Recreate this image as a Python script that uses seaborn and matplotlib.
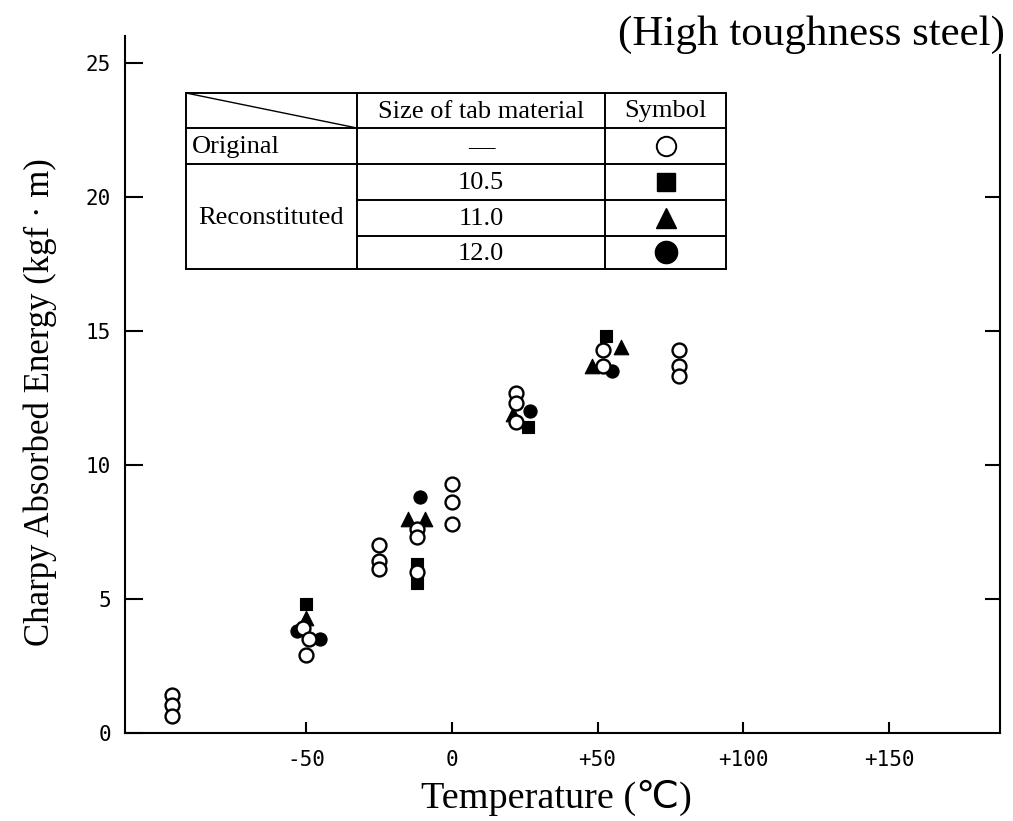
import matplotlib
matplotlib.use("Agg")
import matplotlib.pyplot as plt
import seaborn as sns
import pandas as pd

# ---------------- data ----------------
orig_T = [-96, -96, -96, -51, -49, -50, -25, -25, -25, -12, -12, -12,
          0, 0, 0, 22, 22, 22, 52, 52, 78, 78, 78]
orig_E = [1.4, 1.05, 0.65, 3.9, 3.5, 2.9, 7.0, 6.4, 6.1, 7.6, 7.3, 6.0,
          9.3, 8.6, 7.8, 12.7, 12.3, 11.6, 14.3, 13.7, 14.3, 13.7, 13.3]

sq_T = [-50, -12, -12, 26, 53]          # tab size 10.5
sq_E = [4.8, 6.3, 5.6, 11.4, 14.8]

tri_T = [-50, -15, -9, 21, 58, 48]      # tab size 11.0
tri_E = [4.3, 8.0, 8.0, 11.9, 14.4, 13.7]

dot_T = [-53, -45, -11, 27, 55]         # tab size 12.0
dot_E = [3.8, 3.5, 8.8, 12.0, 13.5]

x_ticks = [-50, 0, 50, 100, 150]
x_labels = ["-50", "0", "+50", "+100", "+150"]
y_ticks = [0, 5, 10, 15, 20, 25]
y_labels = ["0", "5", "10", "15", "20", "25"]

tab_header = ["Size of tab material", "Symbol"]
tab_groups = ["Original", "Reconstituted"]
tab_sizes = ["\u2014", "10.5", "11.0", "12.0"]

# ---------------- style ----------------
sns.set_theme(style="white")
plt.rcParams["font.family"] = ["Liberation Serif", "DejaVu Sans"]
plt.rcParams["text.color"] = "black"
plt.rcParams["xtick.color"] = "black"
plt.rcParams["ytick.color"] = "black"

W, H = 1013, 821
fig = plt.figure(figsize=(W / 100, H / 100), dpi=100)
ax = fig.add_axes([125 / W, 1 - 733 / H, 875 / W, (733 - 36) / H])

frames = {
    "orig": pd.DataFrame({"T": orig_T, "E": orig_E}),
    "sq": pd.DataFrame({"T": sq_T, "E": sq_E}),
    "tri": pd.DataFrame({"T": tri_T, "E": tri_E}),
    "dot": pd.DataFrame({"T": dot_T, "E": dot_E}),
}

sns.scatterplot(data=frames["sq"], x="T", y="E", marker="s", s=80,
                color="black", edgecolor="black", linewidth=0.8, ax=ax, zorder=3)
sns.scatterplot(data=frames["tri"], x="T", y="E", marker="^", s=110,
                color="black", edgecolor="black", linewidth=0.8, ax=ax, zorder=3)
sns.scatterplot(data=frames["dot"], x="T", y="E", marker="o", s=90,
                color="black", edgecolor="black", linewidth=0.8, ax=ax, zorder=3)
sns.scatterplot(data=frames["orig"], x="T", y="E", marker="o", s=100,
                facecolor="white", edgecolor="black", linewidth=1.7, ax=ax, zorder=4)

ax.set_xlim(-112, 188)
ax.set_ylim(0, 26)

for s in ["left", "bottom", "right"]:
    ax.spines[s].set_visible(True)
    ax.spines[s].set_color("black")
    ax.spines[s].set_linewidth(1.5)
ax.spines["top"].set_visible(False)
ax.spines["right"].set_bounds(0, 25.3)

tick_font = dict(family="DejaVu Sans Mono", size=15)
ax.set_xticks(x_ticks)
ax.set_xticklabels(x_labels, fontdict=tick_font)
ax.set_yticks(y_ticks)
ax.set_yticklabels(y_labels, fontdict=tick_font)
ax.tick_params(axis="x", direction="in", length=8, width=1.5, pad=12,
               bottom=True, colors="black")
ax.tick_params(axis="y", direction="in", length=13, width=1.5, pad=10,
               left=True, right=False, colors="black")

# right-hand inward ticks
ax2 = ax.twinx()
ax2.set_ylim(0, 26)
ax2.set_yticks([5, 10, 15, 20])
ax2.set_yticklabels([])
ax2.tick_params(axis="y", direction="in", length=11, width=1.5, right=True)
for s in ax2.spines.values():
    s.set_visible(False)
ax2.grid(False)
ax.grid(False)

ax.set_xlabel("")
ax.set_ylabel("")
fig.text(556 / W, 1 - 798 / H, "Temperature (\u2103)", ha="center", va="center",
         fontsize=27.5)
fig.text(40 / W, 1 - 402 / H, "Charpy Absorbed Energy (kgf \u00b7 m)",
         ha="center", va="center", rotation=90, fontsize=25)
fig.text(1005 / W, 1 - 35 / H, "(High toughness steel)", ha="right",
         va="center", fontsize=31)

# ---------------- legend table ----------------
tax = fig.add_axes([0, 0, 1, 1], zorder=5)
tax.set_xlim(0, W)
tax.set_ylim(H, 0)
tax.axis("off")
tax.patch.set_alpha(0)

x0, x1, x2, x3 = 186, 357, 605, 726
rows = [93, 128, 164, 200, 236, 269]
lw = 1.4
tax.add_patch(plt.Rectangle((x0, rows[0]), x3 - x0, rows[-1] - rows[0],
                            facecolor="white", edgecolor="black", lw=lw, zorder=1))
tax.plot([x0, x3], [rows[1]] * 2, color="black", lw=lw)
tax.plot([x0, x3], [rows[2]] * 2, color="black", lw=lw)
tax.plot([x1, x3], [rows[3]] * 2, color="black", lw=lw)
tax.plot([x1, x3], [rows[4]] * 2, color="black", lw=lw)
tax.plot([x1, x1], [rows[0], rows[-1]], color="black", lw=lw)
tax.plot([x2, x2], [rows[0], rows[-1]], color="black", lw=lw)
tax.plot([x0, x1], [rows[0], rows[1]], color="black", lw=1.0)

fs = 19
cmid = (x1 + x2) / 2
smid = (x2 + x3) / 2
tax.text(cmid, (rows[0] + rows[1]) / 2 + 1, tab_header[0], ha="center", va="center", fontsize=fs)
tax.text(smid, (rows[0] + rows[1]) / 2 + 1, tab_header[1], ha="center", va="center", fontsize=fs)
tax.text(x0 + 6, (rows[1] + rows[2]) / 2 + 1, tab_groups[0], ha="left", va="center", fontsize=fs)
tax.text((x0 + x1) / 2, (rows[3] + rows[4]) / 2, tab_groups[1], ha="center", va="center", fontsize=fs)
for i, lab in enumerate(tab_sizes):
    yc = (rows[i + 1] + rows[i + 2]) / 2 + 1
    tax.text(cmid, yc, lab, ha="center", va="center", fontsize=fs)

sym_y = [(rows[i + 1] + rows[i + 2]) / 2 for i in range(4)]
tax.plot(smid, sym_y[0], "o", ms=14, mfc="white", mec="black", mew=1.4)
tax.plot(smid, sym_y[1], "s", ms=13, mfc="black", mec="black")
tax.plot(smid, sym_y[2], "^", ms=14, mfc="black", mec="black")
tax.plot(smid, sym_y[3], "o", ms=16, mfc="black", mec="black")

fig.savefig("out.png", dpi=100, facecolor="white")
